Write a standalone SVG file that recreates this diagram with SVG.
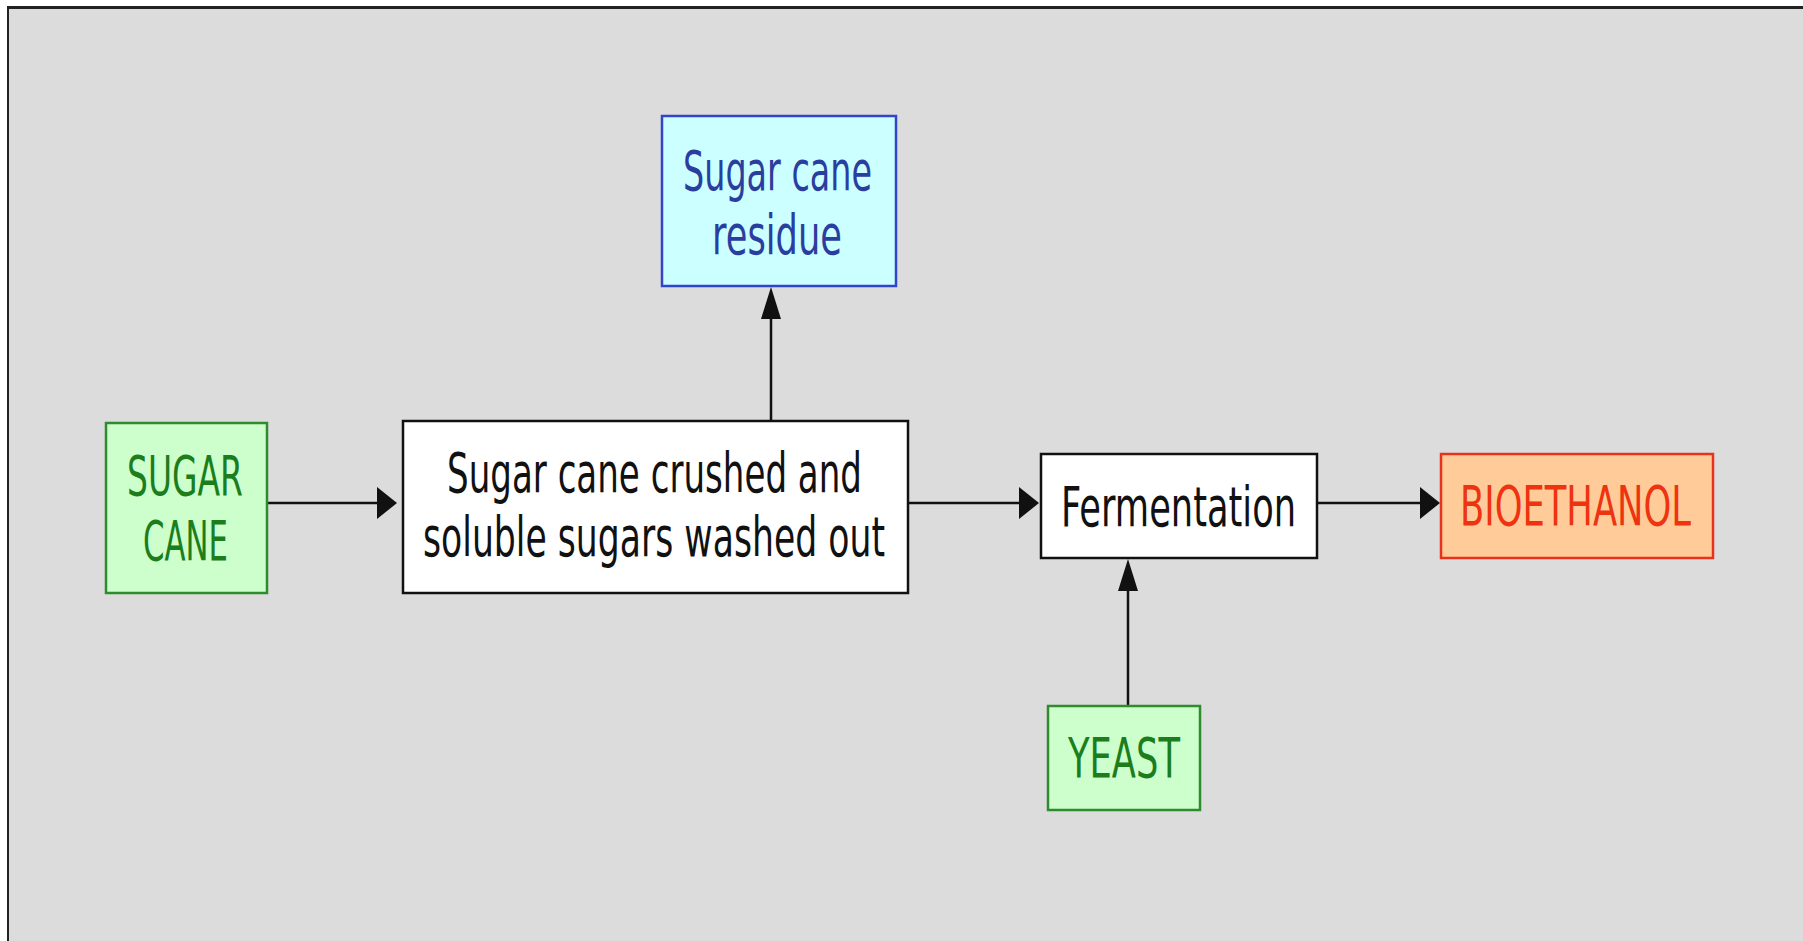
<svg xmlns="http://www.w3.org/2000/svg" width="1803" height="941" viewBox="0 0 1803 941">
<style>
.lbl{font-family:"DejaVu Sans","Liberation Sans",sans-serif;font-size:55px;}
.box{stroke-width:2.5;}
.green rect{fill:#ccffcc;stroke:#2e8b2e;}
.green text{fill:#1b7d1b;}
.white rect{fill:#ffffff;stroke:#111111;}
.white text{fill:#111111;}
.blue rect{fill:#ccffff;stroke:#3344cc;}
.blue text{fill:#2a3ea0;}
.orange rect{fill:#ffcc99;stroke:#e8321e;}
.orange text{fill:#ee3311;}
.conn path{fill:none;stroke:#111111;stroke-width:2.5;}
</style>
<defs>
<marker id="ah" markerUnits="userSpaceOnUse" markerWidth="20" markerHeight="32" refX="0" refY="16" orient="auto" viewBox="0 0 20 32"><path d="M0,0 L20,16 L0,32 Z" fill="#111111"/></marker>
<marker id="av" markerUnits="userSpaceOnUse" markerWidth="32" markerHeight="20" refX="0" refY="10" orient="auto" viewBox="0 0 32 20"><path d="M0,0 L32,10 L0,20 Z" fill="#111111"/></marker>
</defs>
<rect x="0" y="0" width="1803" height="941" fill="#ffffff"/>
<rect x="8" y="8" width="1795" height="933" fill="#dcdcdc"/>
<line x1="7" y1="7.5" x2="1803" y2="7.5" stroke="#222222" stroke-width="3"/>
<line x1="8" y1="6" x2="8" y2="941" stroke="#222222" stroke-width="2"/>

<g id="connectors" class="conn">
<path d="M268,503 H377" marker-end="url(#ah)"/>
<path d="M908,503 H1019" marker-end="url(#ah)"/>
<path d="M1317,503 H1420" marker-end="url(#ah)"/>
<path d="M771,421 V319" marker-end="url(#av)"/>
<path d="M1128,706 V591" marker-end="url(#av)"/>
</g>

<g id="sugar-cane" class="green">
<rect class="box" x="106" y="423" width="161" height="170"/>
<text class="lbl" x="127" y="495" textLength="116" lengthAdjust="spacingAndGlyphs">SUGAR</text>
<text class="lbl" x="143" y="560" textLength="85" lengthAdjust="spacingAndGlyphs">CANE</text>
</g>

<g id="crushing" class="white">
<rect class="box" x="403" y="421" width="505" height="172"/>
<text class="lbl" x="447" y="492" textLength="415" lengthAdjust="spacingAndGlyphs">Sugar cane crushed and</text>
<text class="lbl" x="423" y="556" textLength="462" lengthAdjust="spacingAndGlyphs">soluble sugars washed out</text>
</g>

<g id="residue" class="blue">
<rect class="box" x="662" y="116" width="234" height="170"/>
<text class="lbl" x="683" y="190" textLength="189" lengthAdjust="spacingAndGlyphs">Sugar cane</text>
<text class="lbl" x="712" y="254" textLength="130" lengthAdjust="spacingAndGlyphs">residue</text>
</g>

<g id="fermentation" class="white">
<rect class="box" x="1041" y="454" width="276" height="104"/>
<text class="lbl" x="1061" y="526" textLength="235" lengthAdjust="spacingAndGlyphs">Fermentation</text>
</g>

<g id="bioethanol" class="orange">
<rect class="box" x="1441" y="454" width="272" height="104"/>
<text class="lbl" x="1460" y="525" textLength="231" lengthAdjust="spacingAndGlyphs">BIOETHANOL</text>
</g>

<g id="yeast" class="green">
<rect class="box" x="1048" y="706" width="152" height="104"/>
<text class="lbl" x="1068" y="777" textLength="112" lengthAdjust="spacingAndGlyphs">YEAST</text>
</g>
</svg>
